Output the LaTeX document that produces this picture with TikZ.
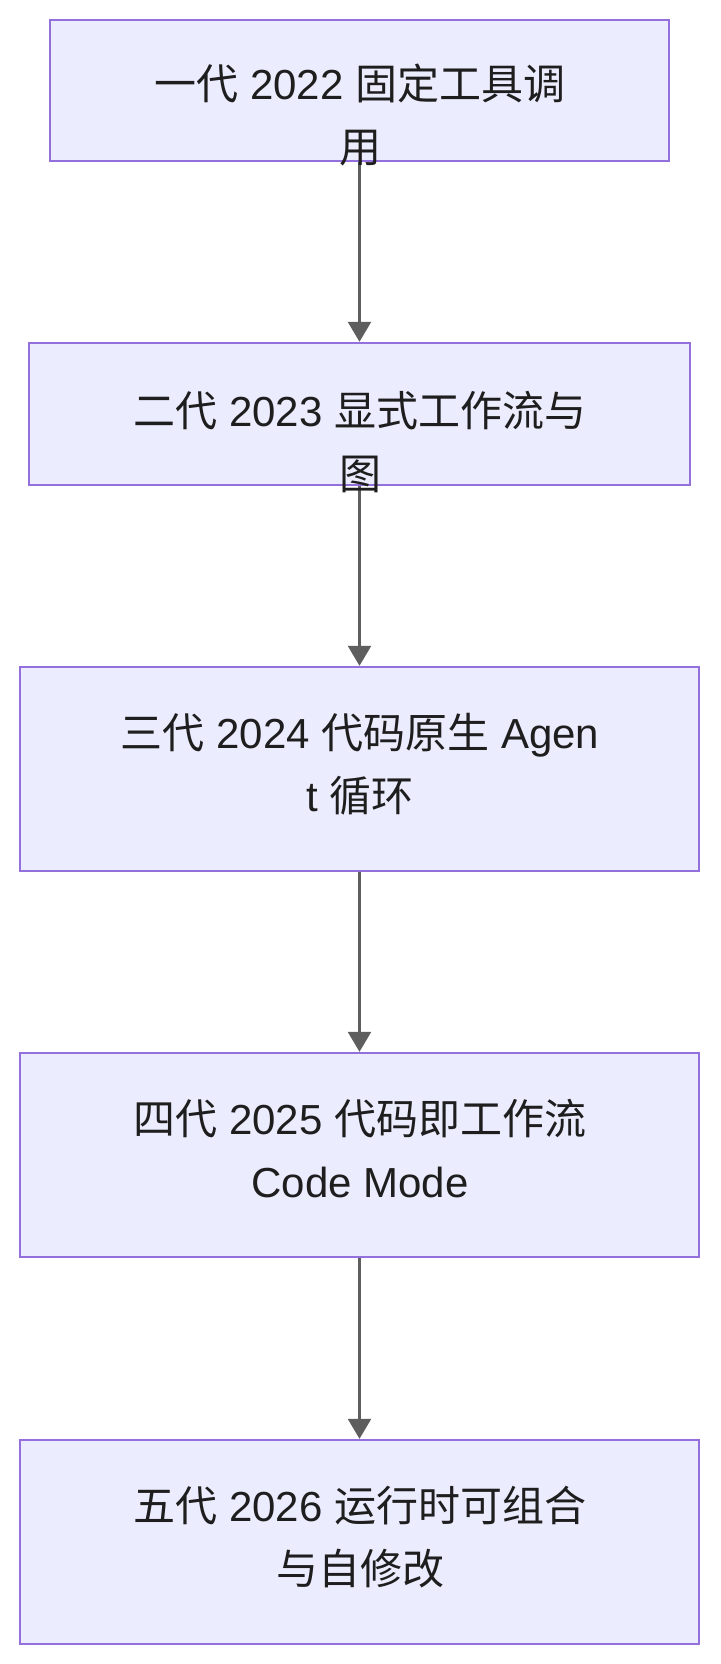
\documentclass[tikz,border=0pt]{standalone}
\usepackage{fontspec}
\setmainfont{Liberation Sans}
\newfontfamily\cjk{Noto Sans CJK SC}
\usetikzlibrary{arrows.meta}
\definecolor{boxfill}{HTML}{ECECFF}
\definecolor{boxline}{HTML}{9370DB}
\definecolor{arrowc}{HTML}{5E5E5E}
\definecolor{txt}{HTML}{1E1E1E}
\begin{document}
\begin{tikzpicture}[x=1pt,y=-1pt,
  box/.style={draw=boxline, fill=boxfill, line width=2.4pt, inner sep=0pt},
  lbl/.style={font=\fontsize{42}{63}\selectfont, text=txt, align=center, anchor=base, inner sep=0pt},
  conn/.style={draw=arrowc, line width=2.6pt, -{Triangle[length=20pt,width=23pt]}}]
\useasboundingbox (0,0) rectangle (720,1664);
\fill[white] (0,0) rectangle (720,1664);

\node[box, minimum width=619pt, minimum height=141pt] (b1) at (359.5,90.5) {};
\node[box, minimum width=661pt, minimum height=142pt] (b2) at (359.5,414) {};
\node[box, minimum width=679pt, minimum height=204pt] (b3) at (359.5,769) {};
\node[box, minimum width=679pt, minimum height=204pt] (b4) at (359.5,1155) {};
\node[box, minimum width=679pt, minimum height=204pt] (b5) at (359.5,1542) {};

\draw[conn] (b1.south) -- (b2.north);
\draw[conn] (b2.south) -- (b3.north);
\draw[conn] (b3.south) -- (b4.north);
\draw[conn] (b4.south) -- (b5.north);

% base anchor of a two-line node sits on the last line's baseline
\node[lbl] (t1) at (360,163) {{\cjk 一代} 2022 {\cjk 固定工具调}\\{\cjk 用}};
\node[lbl] (t2) at (360,489) {{\cjk 二代} 2023 {\cjk 显式工作流与}\\{\cjk 图}};
\node[lbl] (t3) at (360,811) {{\cjk 三代} 2024 {\cjk 代码原生} Agen\\t {\cjk 循环}};
\node[lbl] (t4) at (360,1197) {{\cjk 四代} 2025 {\cjk 代码即工作流}\\Code Mode};
\node[lbl] (t5) at (360,1584) {{\cjk 五代} 2026 {\cjk 运行时可组合}\\{\cjk 与自修改}};
\end{tikzpicture}
\end{document}
